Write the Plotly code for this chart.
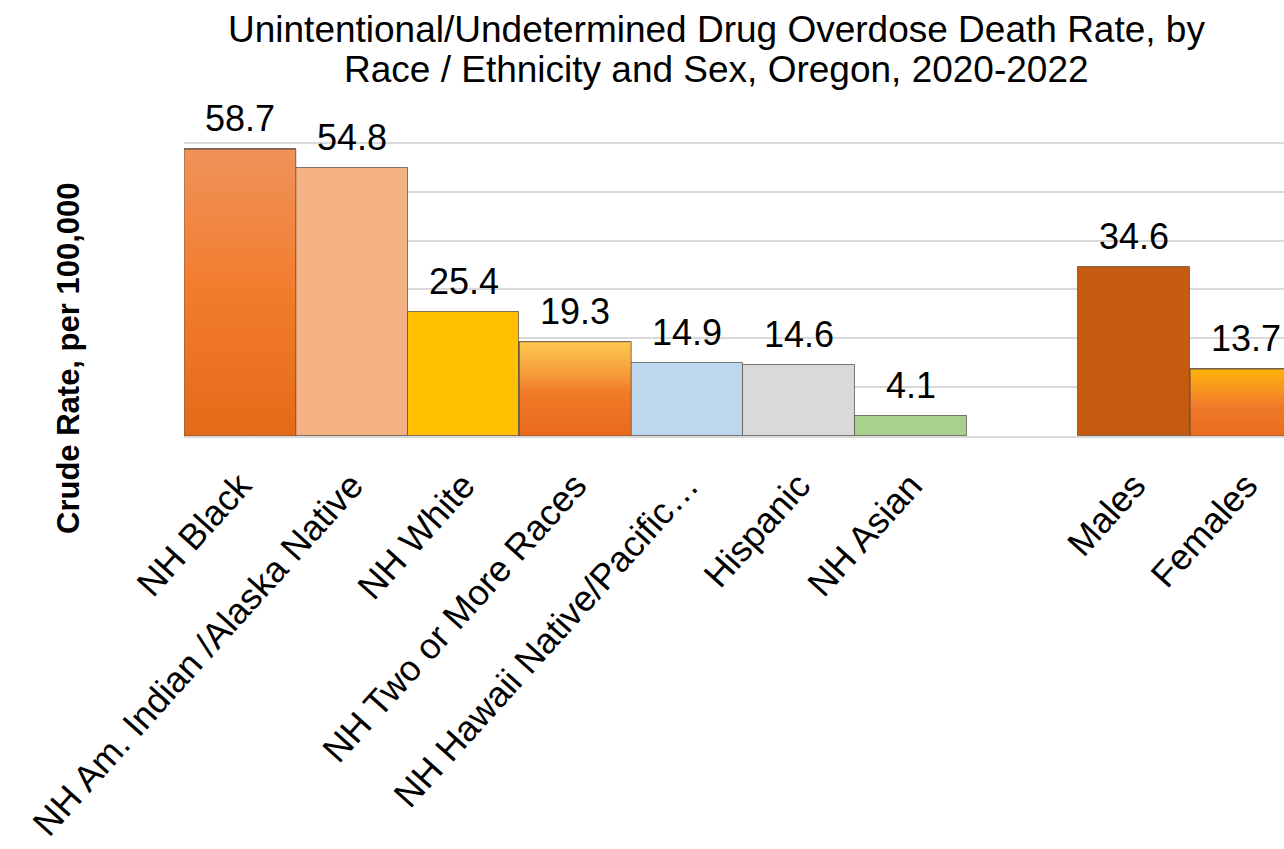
import plotly.graph_objects as go

categories = ["NH Black", "NH Am. Indian /Alaska Native", "NH White", "NH Two or More Races",
              "NH Hawaii Native/Pacific…", "Hispanic", "NH Asian", "Males", "Females"]
positions = [0, 1, 2, 3, 4, 5, 6, 8, 9]
rates = [58.7, 54.8, 25.4, 19.3, 14.9, 14.6, 4.1, 34.6, 13.7]
labels = ["58.7", "54.8", "25.4", "19.3", "14.9", "14.6", "4.1", "34.6", "13.7"]
colors = ["#EE7A2E", "#F4B183", "#FFC000", "#F1892B", "#BDD7EE", "#D9D9D9", "#A9D18E",
          "#C55A11", "#F48A1E"]
# vertical gradient fills (bottom -> top) for the shaded bars
gradients = {
    0: [[0, "#E56A18"], [0.5, "#F27C2C"], [1, "#F0925A"]],
    3: [[0, "#E8691C"], [0.45, "#F07A26"], [0.65, "#F59A3A"], [1, "#FDC94F"]],
    9: [[0, "#E86C1C"], [0.45, "#F07A2A"], [0.6, "#F68C25"], [1, "#FFB30A"]],
}

FONT = "Arial, Liberation Sans, sans-serif"

W, H = 1284, 849
ML, MR, MT, MB = 184, 0, 138, 413
PW, PH = W - ML - MR, H - MT - MB


def px_x(px):
    return (px - ML) / PW


def px_y(py):
    return (H - MB - py) / PH


fig = go.Figure()
fig.add_trace(go.Bar(
    x=positions, y=rates,
    marker=dict(color=colors, line=dict(color="rgba(90,80,70,0.75)", width=1)),
    width=1.0, showlegend=False, hoverinfo="x+y",
))

for xp, v in zip(positions, rates):
    if xp in gradients:
        fig.add_trace(go.Scatter(
            x=[xp - 0.5, xp - 0.5, xp + 0.5, xp + 0.5, xp - 0.5],
            y=[0, v, v, 0, 0],
            mode="lines", fill="toself",
            line=dict(color="rgba(90,80,70,0.75)", width=1),
            fillgradient=dict(type="vertical", colorscale=gradients[xp], start=0, stop=v),
            showlegend=False, hoverinfo="skip",
        ))

for xp, v, t in zip(positions, rates, labels):
    fig.add_annotation(x=xp, y=v, text=t, showarrow=False, xanchor="center", yanchor="bottom",
                       yshift=8, font=dict(family=FONT, size=36, color="#000000"))

fig.add_annotation(x=px_x(68), y=px_y(358), xref="paper", yref="paper",
                   text="<b>Crude Rate, per 100,000</b>", textangle=-90, showarrow=False,
                   xanchor="center", yanchor="middle",
                   font=dict(family=FONT, size=31, color="#000000"))

fig.add_annotation(x=px_x(716), y=px_y(29), xref="paper", yref="paper",
                   text="Unintentional/Undetermined Drug Overdose Death Rate, by",
                   showarrow=False, xanchor="center", yanchor="middle",
                   font=dict(family=FONT, size=37, color="#000000"))
fig.add_annotation(x=px_x(716), y=px_y(69), xref="paper", yref="paper",
                   text="Race / Ethnicity and Sex, Oregon, 2020-2022",
                   showarrow=False, xanchor="center", yanchor="middle",
                   font=dict(family=FONT, size=37, color="#000000"))

fig.update_layout(
    width=W, height=H,
    margin=dict(l=ML, r=MR, t=MT, b=MB),
    plot_bgcolor="white", paper_bgcolor="white",
    bargap=0,
    font=dict(family=FONT, color="#000000"),
)
fig.update_xaxes(
    range=[-0.5, 9.339], tickmode="array", tickvals=positions, ticktext=categories,
    tickangle=-48, tickfont=dict(family=FONT, size=36, color="#000000"),
    showline=True, linecolor="#D9D9D9", linewidth=2, showgrid=False, zeroline=False,
    ticks="outside", ticklen=12, tickcolor="rgba(0,0,0,0)",
)
fig.update_yaxes(
    range=[0, 61], tickvals=[10, 20, 30, 40, 50, 60], showticklabels=False,
    showgrid=True, gridcolor="#D9D9D9", gridwidth=1.5, zeroline=False, showline=False,
)

fig.write_html("out.html")
